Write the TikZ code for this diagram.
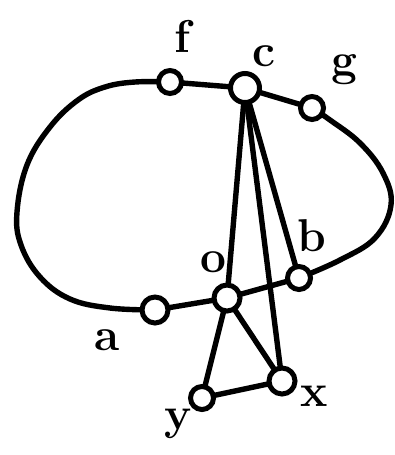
\documentclass[tikz,border=0pt]{standalone}
\usepackage{fontspec}
\usetikzlibrary{backgrounds}
\begin{document}
\begin{tikzpicture}[x=1pt,y=-1pt,
  vtx/.style={circle,draw,line width=5pt,fill=white,minimum size=23pt,inner sep=0pt},
  big/.style={vtx,minimum size=29pt},
  lab/.style={font=\fontsize{46}{46}\selectfont\bfseries},
  edge/.style={line width=5.4pt,line join=round,line cap=round}]
\useasboundingbox (0,0) rectangle (395,455);
\node[vtx] (f) at (170,82) {};
\node[big] (c) at (245,88) {};
\node[vtx] (g) at (312,108) {};
\node[vtx] (b) at (299,278) {};
\node[big,minimum size=26pt] (o) at (227,298) {};
\node[vtx,minimum size=26pt] (a) at (155,310) {};
\node[vtx] (y) at (202,398) {};
\node[vtx,minimum size=26pt] (x) at (282,381) {};
\begin{scope}[on background layer]
\draw[edge] plot[smooth,tension=0.65] coordinates {(g.center) (330,120) (360,143) (383,173) (391,205) (375,238) (340,260) (b.center)};
\draw[edge] plot[smooth,tension=0.65] coordinates {(a.center) (110,308) (70,299) (40,277) (21,245) (17,212) (27,165) (50,127) (78,100) (105,87) (135,82) (f.center)};
\draw[edge] (f.center) -- (c.center) -- (g.center);
\draw[edge] (b.center) -- (o.center) -- (a.center);
\draw[edge] (c.center) -- (o.center);
\draw[edge] (c.center) -- (x.center);
\draw[edge] (c.center) -- (b.center);
\draw[edge] (o.center) -- (x.center);
\draw[edge] (o.center) -- (y.center);
\draw[edge] (y.center) -- (x.center);
\end{scope}
\node[lab] (lf) at (182,36) {f};
\node[lab] (lc) at (264,56) {c};
\node[lab] (lg) at (344,70) {g};
\node[lab] (lb) at (312,236) {b};
\node[lab] (lo) at (213,262) {o};
\node[lab] (la) at (107,340) {a};
\node[lab] (ly) at (178,424) {y};
\node[lab] (lx) at (314,396) {x};
\end{tikzpicture}
\end{document}
